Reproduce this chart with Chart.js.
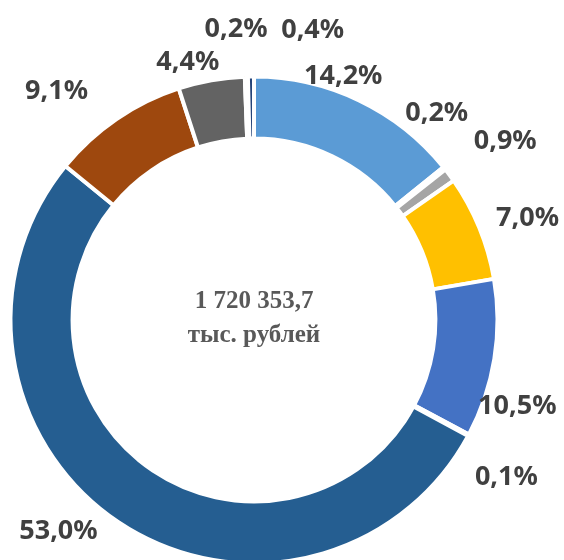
<!DOCTYPE html>
<html>
<head>
<meta charset="utf-8">
<script src="https://cdn.jsdelivr.net/npm/chart.js@4.4.0/dist/chart.umd.min.js"></script>
<style>
  html, body { margin: 0; padding: 0; background: #fff; overflow: hidden; width: 564px; height: 560px; }
  canvas { display: block; }
</style>
</head>
<body>
<canvas id="ring" width="564" height="570"></canvas>
<script>
// ── data ──
const categories = ['Статья 1', 'Статья 2', 'Статья 3', 'Статья 4', 'Статья 5', 'Статья 6',
                    'Статья 7', 'Статья 8', 'Статья 9', 'Статья 10', 'Статья 11'];
const shares = [14.2, 0.2, 0.9, 7.0, 10.5, 0.1, 53.0, 9.1, 4.4, 0.2, 0.4];
const totalLines = ['1 720 353,7', 'тыс. рублей'];

const sliceColors = ['#5B9BD5', '#ED7D31', '#A5A5A5', '#FFC000', '#4472C4', '#70AD47',
                     '#255E91', '#9E480E', '#636363', '#997300', '#264478'];
// label placement: [angle shift from slice middle (deg), distance beyond ring (px)]
const labelShift = [[-5.6, 18], [-10.3, 34], [0.8, 66], [1.6, 49], [8.6, 33], [3.4, 53],
                    [9.2, 43], [-6.2, 60], [-4.2, 25], [-1.7, 50], [12.1, 54]];

const pct = v => v.toFixed(1).replace('.', ',') + '%';

const ringLabels = {
  id: 'ringLabels',
  afterDatasetsDraw(chart) {
    const ctx = chart.ctx;
    const meta = chart.getDatasetMeta(0);
    ctx.save();
    ctx.font = 'bold 27px "Noto Sans"';
    ctx.fillStyle = '#404040';
    ctx.textAlign = 'center';
    ctx.textBaseline = 'alphabetic';
    meta.data.forEach((arc, i) => {
      const p = arc.getProps(['x', 'y', 'startAngle', 'endAngle', 'outerRadius'], true);
      const a = (p.startAngle + p.endAngle) / 2 + labelShift[i][0] * Math.PI / 180;
      const r = p.outerRadius + labelShift[i][1];
      const lx = p.x + Math.cos(a) * r;
      const ly = p.y + Math.sin(a) * r;
      ctx.fillText(pct(shares[i]), lx, ly + 27 * 0.36);
    });
    // centre caption
    const c = meta.data[0].getProps(['x', 'y'], true);
    ctx.font = 'bold 25px "Liberation Serif"';
    ctx.fillStyle = '#595959';
    ctx.fillText(totalLines[0], c.x, c.y - 12);
    ctx.fillText(totalLines[1], c.x, c.y + 22);
    ctx.restore();
  }
};

new Chart(document.getElementById('ring'), {
  type: 'doughnut',
  data: {
    labels: categories,
    datasets: [{
      data: shares,
      backgroundColor: sliceColors,
      borderColor: '#ffffff',
      borderWidth: 4,
      hoverOffset: 0,
      offset: 0
    }]
  },
  options: {
    responsive: false,
    animation: false,
    cutout: '74.5%',
    layout: { padding: { left: 8.5, right: 64.5, top: 74.5, bottom: 4.5 } },
    plugins: { legend: { display: false }, tooltip: { enabled: false } }
  },
  plugins: [ringLabels]
});
</script>
</body>
</html>
